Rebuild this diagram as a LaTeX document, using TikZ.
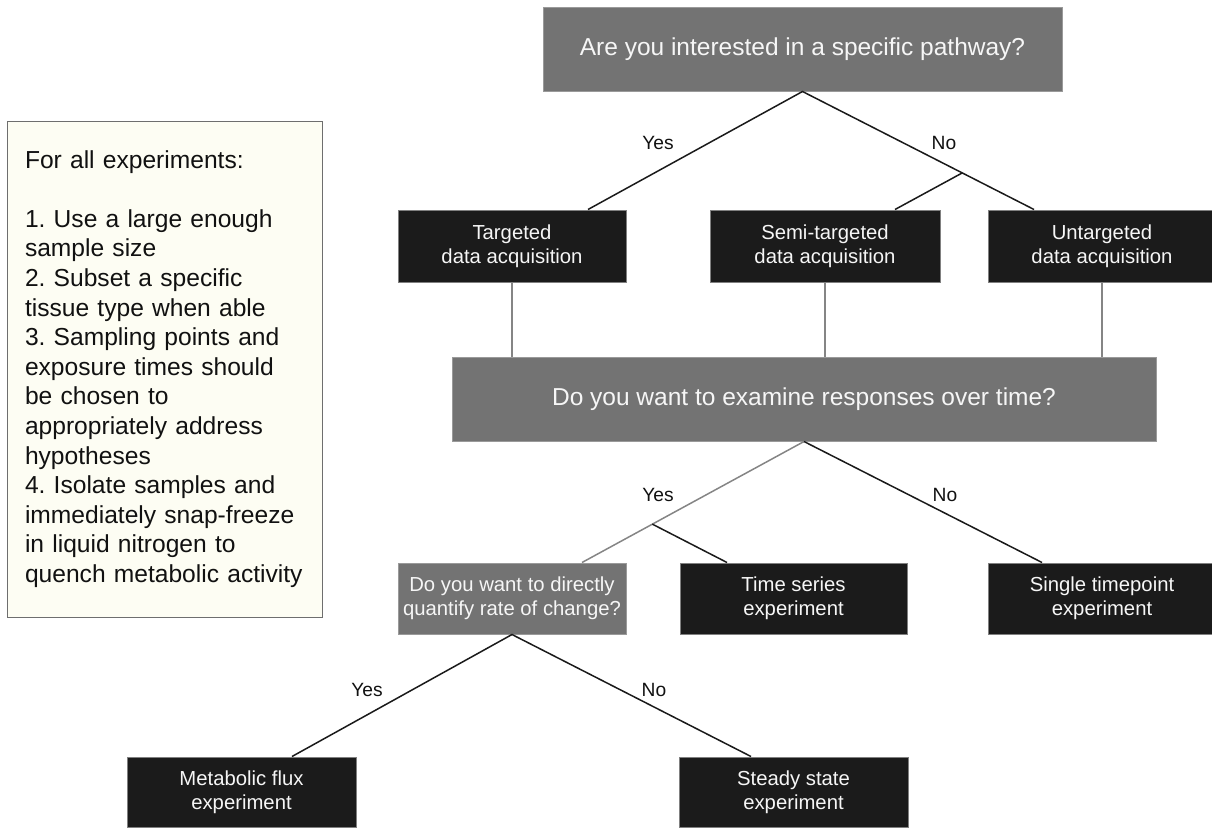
\documentclass[tikz,border=0pt]{standalone}
\usepackage{fontspec}
\setmainfont{Liberation Sans}
\usetikzlibrary{calc}
\frenchspacing
\definecolor{qgray}{HTML}{737373}
\definecolor{qborder}{HTML}{9A9A9A}
\definecolor{ablack}{HTML}{1B1B1B}
\definecolor{aborder}{HTML}{808080}
\definecolor{boxtext}{HTML}{F6F6F6}
\definecolor{lineblack}{HTML}{1A1A1A}
\definecolor{linegray}{HTML}{858585}
\definecolor{labeltext}{HTML}{111111}
\definecolor{notefill}{HTML}{FDFDF3}
\definecolor{noteborder}{HTML}{6E6E6E}
\begin{document}
\begin{tikzpicture}[x=1pt,y=-1pt,
  qbox/.style={draw=qborder, line width=1pt, fill=qgray, text=boxtext, inner sep=0pt, align=center, font=\fontsize{24.5}{29}\selectfont},
  abox/.style={draw=aborder, line width=1pt, fill=ablack, text=boxtext, inner sep=0pt, align=center, font=\fontsize{20.3}{24}\selectfont, minimum height=72pt},
  qsmall/.style={draw=qborder, line width=1pt, fill=qgray, text=boxtext, inner sep=0pt, align=center, font=\fontsize{20.3}{24}\selectfont, minimum height=71pt},
  edge/.style={draw=lineblack, line width=1.5pt},
  gedge/.style={draw=linegray, line width=1.5pt},
  lbl/.style={text=labeltext, font=\fontsize{19.2}{22}\selectfont, inner sep=0pt},
  notebox/.style={draw=noteborder, line width=1pt, fill=notefill, text=labeltext, align=left, inner xsep=18pt, inner ysep=0pt, text width=279pt, minimum width=315pt, minimum height=496pt, font=\fontsize{24.6}{29.6}\selectfont},
]
\useasboundingbox (0,0) rectangle (1212,827);

% notes
\node[notebox] (notes) at (164.5,369) {For all experiments:\\
\mbox{}\\
1. Use a large enough\\
sample size\\
2. Subset a specific\\
tissue type when able\\
3. Sampling points and\\
exposure times should\\
be chosen to\\
appropriately address\\
hypotheses\\
4. Isolate samples and\\
immediately snap-freeze\\
in liquid nitrogen to\\
quench metabolic activity};

% boxes
\node[qbox, minimum width=519pt, minimum height=84pt] (q1) at (802.5,49) {Are you interested in a specific pathway?};
\node[abox, minimum width=228pt] (t1) at (512,246) {Targeted\\data acquisition};
\node[abox, minimum width=230pt] (t2) at (825,246) {Semi-targeted\\data acquisition};
\node[abox, minimum width=228pt] (t3) at (1102,246) {Untargeted\\data acquisition};
\node[qbox, minimum width=704pt, minimum height=84pt] (q2) at (804,399) {Do you want to examine responses over time?};
\node[qsmall, minimum width=228pt] (q3) at (512,598.5) {Do you want to directly\\quantify rate of change?};
\node[abox, minimum width=227pt, minimum height=71pt] (ts) at (793.5,598.5) {Time series\\experiment};
\node[abox, minimum width=228pt, minimum height=71pt] (sp) at (1102,598.5) {Single timepoint\\experiment};
\node[abox, minimum width=229pt, minimum height=70pt] (mf) at (241.5,792) {Metabolic flux\\experiment};
\node[abox, minimum width=229pt, minimum height=70pt] (ss) at (793.5,792) {Steady state\\experiment};

% level 1 connectors
\coordinate (b1) at ($(q1.south)!0.69!([xshift=-68pt]t3.north)$);
\draw[edge] ([xshift=76pt]t1.north) -- (q1.south) -- ([xshift=-68pt]t3.north);
\draw[edge] (b1) -- ([xshift=70pt]t2.north);
\node[lbl] (y1) at (658,143) {Yes};
\node[lbl] (n1) at (944,143) {No};

% vertical gray connectors
\draw[gedge] (t1.south) -- (t1.south |- q2.north);
\draw[gedge] (t2.south) -- (t2.south |- q2.north);
\draw[gedge] (t3.south) -- (t3.south |- q2.north);

% level 2 connectors
\coordinate (b2) at ($(q2.south)!0.683!([xshift=70pt]q3.north)$);
\draw[gedge] (q2.south) -- ([xshift=70pt]q3.north);
\draw[edge] (b2) -- ([xshift=-66.5pt]ts.north);
\draw[edge] (q2.south) -- ([xshift=-60pt]sp.north);
\node[lbl] (y2) at (658,495) {Yes};
\node[lbl] (n2) at (945,495) {No};

% level 3 connectors
\draw[edge] ([xshift=50.5pt]mf.north) -- (q3.south) -- ([xshift=-42.5pt]ss.north);
\node[lbl] (y3) at (367,690) {Yes};
\node[lbl] (n3) at (654,690) {No};
\end{tikzpicture}
\end{document}
